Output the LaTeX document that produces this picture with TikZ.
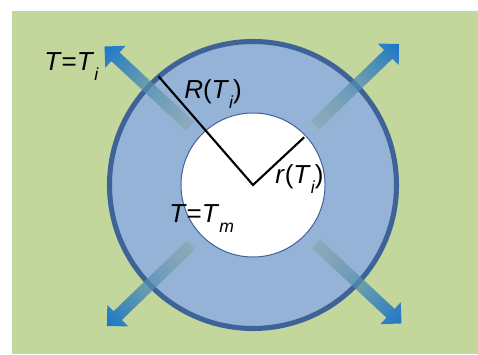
\documentclass[tikz,border=0pt]{standalone}
\usepackage{fontspec}
\setmainfont{Liberation Sans}
\usepackage{tikz}
\usetikzlibrary{fadings,calc}
\definecolor{meadow}{HTML}{C3D69B}
\definecolor{shellfill}{HTML}{95B3D7}
\definecolor{shelledge}{HTML}{3D6399}
\definecolor{tailC}{HTML}{86A39C}
\definecolor{headC}{HTML}{1B77C8}
\tikzfading[name=tailfade, left color=transparent!50, right color=transparent!0]
\newcommand{\va}[1]{\textit{#1}}
\newcommand{\lowsub}[1]{\raisebox{-0.36em}{\fontsize{12.5}{12.5}\selectfont\itshape #1}}
\tikzset{
  ring/.style={draw=shelledge, line width=3.6pt, fill=shellfill},
  core/.style={draw=shelledge, line width=0.7pt, fill=white},
  flowarrow/.style={left color=tailC, right color=headC, path fading=tailfade},
  radius line/.style={draw=black, line width=1.5pt, line join=miter},
  lbl/.style={anchor=base west, inner sep=0pt, font=\fontsize{18.5}{18.5}\selectfont},
}

\begin{document}
\begin{tikzpicture}[x=0.025cm, y=0.025cm]
    \useasboundingbox (0,0) rectangle (478,354);
    \fill[meadow] (12,0) rectangle (478,343);
    \coordinate (C) at (253,169);
    % shell and molten core
    \draw[ring] (C) circle[radius=143.5];
    \draw[core] (C) circle[radius=72];
    % heat flow arrows
    \foreach \ang in {137,44,224,-43} {
      \begin{scope}[transform canvas={shift={(C)}, rotate=\ang}]
        \shade[flowarrow] (86,-6) -- (188,-6) -- (188,-15) -- (203,0)
          -- (188,15) -- (188,6) -- (86,6) -- cycle;
      \end{scope}
    }
    % radii
    \coordinate (Rend) at ($(C)+(131:144)$);
    \coordinate (rend) at ($(C)+(43:70)$);
    \draw[radius line] (Rend) -- (C) -- (rend);
    % labels
    \node[lbl] (lblTi) at (44,283) {\va{T}=\va{T}\lowsub{i}};
    \node[lbl] (lblR) at (184,255) {\va{R}(\va{T}\lowsub{i})};
    \node[lbl] (lblr) at (275,170) {\va{r}(\va{T}\lowsub{i})};
    \node[lbl] (lblTm) at (169,131) {\va{T}=\va{T}\lowsub{m}};
\end{tikzpicture}
\end{document}
